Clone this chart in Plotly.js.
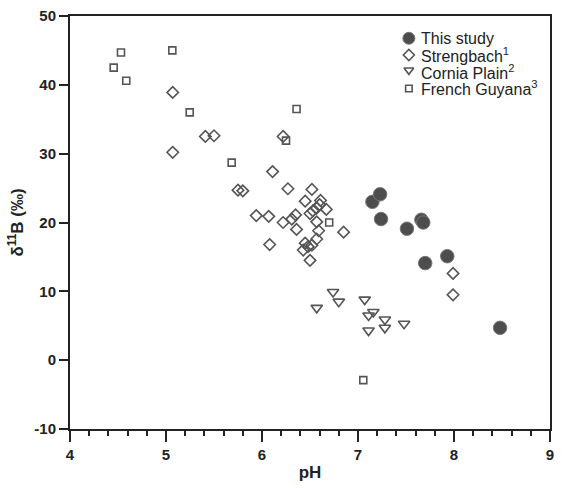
<!DOCTYPE html>
<html>
<head>
<meta charset="utf-8">
<script src="https://cdn.plot.ly/plotly-3.0.1.min.js"></script>
<style>html,body{margin:0;padding:0;background:#fff;}#chart{width:562px;height:488px;}
.xtick text,.ytick text{font-weight:bold !important;}</style>
</head>
<body>
<div id="chart"></div>
<script>
// This study
const studyPH = [7.15, 7.23, 7.24, 7.51, 7.66, 7.68, 7.70, 7.93, 8.48];
const studyB  = [23.0, 24.1, 20.5, 19.1, 20.4, 20.0, 14.1, 15.1, 4.7];
// Strengbach
const strengPH = [5.07, 5.07, 5.41, 5.50, 6.22, 6.11, 5.75, 5.80, 6.27, 6.52, 6.45, 6.61, 6.67, 5.94, 6.07, 6.22, 6.31, 6.35, 6.36, 6.50, 6.53, 6.57, 6.60, 6.57, 6.59, 6.85, 6.08, 6.45, 6.48, 6.52, 6.43, 6.57, 6.50, 7.99, 7.99];
const strengB  = [38.9, 30.2, 32.5, 32.6, 32.5, 27.4, 24.7, 24.6, 24.9, 24.8, 23.1, 23.2, 21.9, 21.0, 20.9, 20.0, 20.5, 21.1, 19.0, 21.3, 21.7, 22.1, 22.6, 20.1, 18.8, 18.6, 16.8, 17.0, 16.5, 16.7, 16.0, 17.6, 14.5, 12.6, 9.5];
// Cornia Plain
const corniaPH = [6.74, 6.80, 6.57, 7.07, 7.16, 7.11, 7.11, 7.28, 7.28, 7.48];
const corniaB  = [9.9, 8.5, 7.6, 8.8, 7.0, 6.5, 4.3, 5.9, 4.7, 5.3];
// French Guyana
const guyanaPH = [4.455, 4.531, 4.586, 5.066, 5.247, 5.684, 6.36, 6.25, 6.70, 7.055];
const guyanaB  = [42.5, 44.7, 40.6, 45.0, 36.0, 28.7, 36.5, 31.9, 20.0, -2.9];

// Series names (legend)
const seriesNames = ['This study', 'Strengbach<sup>1</sup>', 'Cornia Plain<sup>2</sup>', 'French Guyana<sup>3</sup>'];

// Tick labels
const xTickVals = [4, 5, 6, 7, 8, 9];
const xTickText = ['4', '5', '6', '7', '8', '9'];
const yTickVals = [-10, 0, 10, 20, 30, 40, 50];
const yTickText = ['-10', '0', '10', '20', '30', '40', '50'];

const gray = '#555555';
const styles = [
  {symbol: 'circle', size: 13.5, color: '#4d4d4d', line: {color: '#777777', width: 1}},
  {symbol: 'diamond-open', size: 8.8, color: gray, line: {width: 1.6}},
  {symbol: 'triangle-down-open', size: 10, color: gray, line: {width: 1.6}},
  {symbol: 'square-open', size: 7, color: gray, line: {width: 1.6}}
];
const legendStyles = [
  {symbol: 'circle', size: 12, color: '#4d4d4d', line: {color: '#777777', width: 1}},
  {symbol: 'diamond-open', size: 8.5, color: gray, line: {width: 1.6}},
  {symbol: 'triangle-down-open', size: 8.5, color: gray, line: {width: 1.6}},
  {symbol: 'square-open', size: 6.5, color: gray, line: {width: 1.6}}
];
const xs = [studyPH, strengPH, corniaPH, guyanaPH];
const ys = [studyB, strengB, corniaB, guyanaB];

const traces = xs.map((x, i) => ({
  x: x, y: ys[i], mode: 'markers', type: 'scatter', name: seriesNames[i],
  marker: styles[i], showlegend: false, cliponaxis: false
}));

// Compact legend: symbols on an overlay axis spanning the plot area (0..1)
const legX = 0.706, legTextX = 0.727, legY0 = 0.946, legDy = 0.0405;
const legendRows = seriesNames.map((n, i) => legY0 - i * legDy);
legendStyles.forEach((m, i) => {
  traces.push({x: [legX], y: [legendRows[i] + (i === 2 ? 0.004 : 0)], xaxis: 'x2', yaxis: 'y2',
    mode: 'markers', type: 'scatter', marker: m, showlegend: false, hoverinfo: 'skip'});
});
const annotations = seriesNames.map((n, i) => ({
  xref: 'paper', yref: 'paper', x: legTextX, y: legendRows[i], xanchor: 'left', yanchor: 'middle',
  text: n, showarrow: false, font: {size: 16, color: '#222', family: 'Liberation Sans, Arial, sans-serif'}
}));

const tf = {size: 15, color: '#222', family: 'Liberation Sans, Arial, sans-serif', weight: 'bold'};
const layout = {
  width: 562, height: 488,
  margin: {l: 70, r: 12, t: 16, b: 59},
  paper_bgcolor: '#fff', plot_bgcolor: '#fff',
  font: {family: 'Liberation Sans, Arial, sans-serif', color: '#222'},
  showlegend: false,
  annotations: annotations,
  xaxis: {
    range: [4, 9], tickmode: 'array', tickvals: xTickVals, ticktext: xTickText,
    showgrid: false, zeroline: false,
    showline: true, linecolor: '#222', linewidth: 2, mirror: true,
    ticks: 'outside', ticklen: 11, tickwidth: 2, tickcolor: '#222',
    minor: {dtick: 0.2, ticks: 'outside', ticklen: 5, tickwidth: 2, tickcolor: '#222', showgrid: false},
    tickfont: tf,
    title: {text: 'pH', font: {size: 17, color: '#222', weight: 'bold'}, standoff: 4}
  },
  yaxis: {
    range: [-10, 50], tickmode: 'array', tickvals: yTickVals, ticktext: yTickText,
    showgrid: false, zeroline: false,
    showline: true, linecolor: '#222', linewidth: 2, mirror: true,
    ticks: 'outside', ticklen: 9, tickwidth: 2, tickcolor: '#222',
    tickfont: tf,
    title: {text: 'δ<sup>11</sup>B (‰)', font: {size: 17, color: '#222', weight: 'bold'}, standoff: 6}
  },
  xaxis2: {overlaying: 'x', range: [0, 1], visible: false, fixedrange: true},
  yaxis2: {overlaying: 'y', range: [0, 1], visible: false, fixedrange: true}
};

Plotly.newPlot('chart', traces, layout, {displayModeBar: false, staticPlot: true}).then(gd => {
  gd.querySelectorAll('.xtick text, .ytick text').forEach(t => t.setAttribute('font-weight', 'bold'));
});
</script>
</body>
</html>
